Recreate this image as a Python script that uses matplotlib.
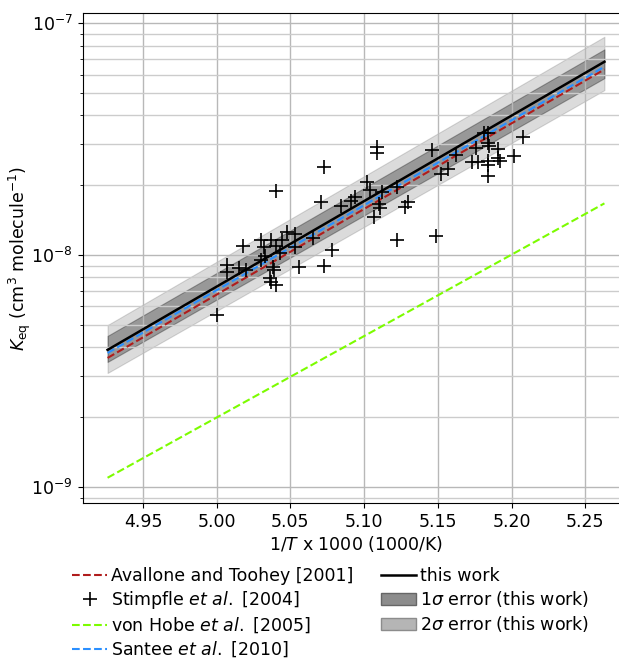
import numpy as np
import matplotlib
matplotlib.use("Agg")
import matplotlib.pyplot as plt
from matplotlib.patches import Patch
from matplotlib.lines import Line2D

# ---- data ----
# line endpoints (1000/T)
x_line = [4.926, 5.263]
k_this_work = [3.90e-9, 6.81e-8]
k_avallone = [3.60e-9, 6.31e-8]
k_santee = [3.78e-9, 6.48e-8]
k_vonhobe = [1.096e-9, 1.67e-8]
k_1sig_lo = [3.46e-9, 5.79e-8]
k_1sig_hi = [4.48e-9, 7.70e-8]
k_2sig_lo = [3.10e-9, 5.14e-8]
k_2sig_hi = [4.99e-9, 8.73e-8]

# Stimpfle et al. 2004 points
stim_x = [5.000, 5.007, 5.007, 5.015, 5.018, 5.020, 5.030, 5.030, 5.032, 5.033,
          5.037, 5.038, 5.039, 5.040, 5.040, 5.036, 5.037, 5.040, 5.044, 5.048,
          5.053, 5.053, 5.056, 5.043, 5.065, 5.071, 5.073, 5.073, 5.078, 5.084,
          5.091, 5.094, 5.102, 5.104, 5.109, 5.109, 5.110, 5.111, 5.107, 5.112,
          5.122, 5.122, 5.130, 5.128, 5.146, 5.149, 5.152, 5.157, 5.162, 5.173,
          5.177, 5.176, 5.181, 5.184, 5.184, 5.185, 5.191, 5.184, 5.184, 5.184,
          5.191, 5.192, 5.202, 5.208]
stim_k = [5.51e-9, 9.06e-9, 8.45e-9, 8.79e-9, 1.093e-8, 8.62e-9, 1.166e-8, 9.52e-9, 1.079e-8, 9.90e-9,
          1.166e-8, 8.88e-9, 8.62e-9, 1.894e-8, 1.093e-8, 7.93e-9, 7.65e-9, 7.43e-9, 1.161e-8, 1.256e-8,
          1.238e-8, 1.079e-8, 8.92e-9, 1.017e-8, 1.184e-8, 1.697e-8, 2.384e-8, 9.01e-9, 1.051e-8, 1.627e-8,
          1.717e-8, 1.773e-8, 2.069e-8, 1.907e-8, 2.935e-8, 2.760e-8, 1.659e-8, 1.602e-8, 1.462e-8, 1.875e-8,
          1.973e-8, 1.166e-8, 1.697e-8, 1.610e-8, 2.835e-8, 1.208e-8, 2.234e-8, 2.341e-8, 2.698e-8, 2.524e-8,
          2.509e-8, 2.901e-8, 3.346e-8, 3.346e-8, 3.031e-8, 2.950e-8, 2.854e-8, 2.542e-8, 2.443e-8, 2.190e-8,
          2.611e-8, 2.542e-8, 2.672e-8, 3.235e-8]

x_ticks = [4.95, 5.00, 5.05, 5.10, 5.15, 5.20, 5.25]
x_lim = (4.909, 5.280)
y_lim = (10 ** -9.069, 10 ** -6.958)

FS = 12.5
plt.rcParams['font.family'] = ['DejaVu Sans']
plt.rcParams['mathtext.fontset'] = 'dejavusans'

fig = plt.figure(figsize=(6.19, 6.59), dpi=100)
# axes extends slightly past the right edge of the figure (as in the reference crop)
ax = fig.add_axes([82.5 / 619, 1 - 503 / 659, (629.5 - 82.5) / 619, (503 - 13.3) / 659])

ax.fill_between(x_line, k_2sig_lo, k_2sig_hi, color='k', alpha=0.14, linewidth=0.8)
ax.fill_between(x_line, k_1sig_lo, k_1sig_hi, color='k', alpha=0.30, linewidth=0.8)

ax.plot(x_line, k_avallone, '--', color='#b01c1c', lw=1.5)
ax.plot(x_line, k_santee, '--', color='#2a8fff', lw=1.5)
ax.plot(x_line, k_vonhobe, '--', color='#7cfc00', lw=1.5)
ax.plot(x_line, k_this_work, '-', color='k', lw=1.8)
ax.plot(stim_x, stim_k, '+', color='k', ms=10, mew=1.2, linestyle='none')

ax.set_yscale('log')
ax.set_xlim(*x_lim)
ax.set_ylim(*y_lim)
ax.set_xticks(x_ticks)
ax.set_xticklabels([f"{t:.2f}" for t in x_ticks])
ax.grid(True, which='major', color='0.72', lw=1.0)
ax.grid(True, which='minor', axis='y', color='0.8', lw=1.0)
ax.tick_params(labelsize=FS)
ax.spines['right'].set_visible(False)

ax.set_xlabel(r"1/$T$ x 1000 (1000/K)", fontsize=FS, labelpad=2)
ax.set_ylabel(r"$K_{\rm eq}$ (cm$^3$ molecule$^{-1}$)", fontsize=FS, labelpad=-1)

handles = [
    Line2D([], [], color='#b01c1c', ls='--', lw=1.5),
    Line2D([], [], color='k', marker='+', ls='none', ms=10, mew=1.2),
    Line2D([], [], color='#7cfc00', ls='--', lw=1.5),
    Line2D([], [], color='#2a8fff', ls='--', lw=1.5),
    Line2D([], [], color='k', ls='-', lw=1.8),
    Patch(facecolor='0.55', edgecolor='0.4'),
    Patch(facecolor='0.71', edgecolor='0.55'),
]
labels = [
    "Avallone and Toohey [2001]",
    r"Stimpfle $et\ al.$ [2004]",
    r"von Hobe $et\ al.$ [2005]",
    r"Santee $et\ al.$ [2010]",
    "this work",
    r"1$\sigma$ error (this work)",
    r"2$\sigma$ error (this work)",
]
fig.legend(handles, labels, loc='upper left', bbox_to_anchor=(60 / 619, 1 - 555 / 659),
           bbox_transform=fig.transFigure, ncol=2, frameon=False, fontsize=FS,
           handlelength=2.0, handletextpad=0.25, columnspacing=1.6, labelspacing=0.25,
           borderpad=0.2)

fig.savefig("out.png", dpi=100)
